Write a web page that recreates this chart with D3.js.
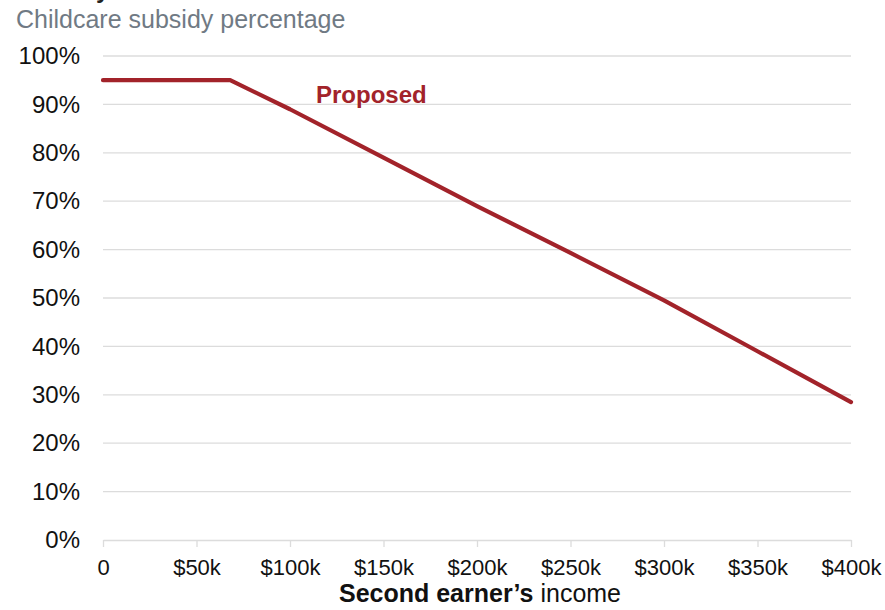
<!DOCTYPE html>
<html>
<head>
<meta charset="utf-8">
<script src="https://cdn.jsdelivr.net/npm/d3@7"></script>
<style>
  html, body { margin: 0; padding: 0; background: #fff; }
  svg { display: block; font-family: "Liberation Sans", Arial, sans-serif; }
</style>
</head>
<body>
<svg id="chart" width="885" height="610"></svg>
<script>
// ---- data ----
const titleText = "Subsidy";
const subtitleText = "Childcare subsidy percentage";
const seriesName = "Proposed";
const income = [0, 68, 100, 150, 200, 250, 300, 350, 400];          // $k
const subsidy = [95, 95, 89, 79, 69, 59.3, 49.5, 39, 28.5];          // %
const xTicks = [0, 50, 100, 150, 200, 250, 300, 350, 400];
const xTickLabels = ["0", "$50k", "$100k", "$150k", "$200k", "$250k", "$300k", "$350k", "$400k"];
const yTicks = [0, 10, 20, 30, 40, 50, 60, 70, 80, 90, 100];
const xTitleBold = "Second earner\u2019s";
const xTitleRest = " income";

// ---- layout ----
const svg = d3.select("#chart");
const x = d3.scaleLinear().domain([0, 400]).range([103, 851]);
const y = d3.scaleLinear().domain([0, 100]).range([540, 56]);
const red = "#a2232a";
const grid = "#dcdcdc";

// title (cropped at top, as in the reference)
svg.append("text").attr("x", 16).attr("y", -2)
  .attr("font-size", 24).attr("font-weight", "bold").attr("fill", "#222")
  .text(titleText);

svg.append("text").attr("x", 16).attr("y", 28)
  .attr("font-size", 25).attr("fill", "#707a84")
  .text(subtitleText);

// gridlines
svg.append("g").selectAll("line").data(yTicks.filter(d => d > 0)).join("line")
  .attr("x1", 103).attr("x2", 851)
  .attr("y1", d => y(d)).attr("y2", d => y(d))
  .attr("stroke", grid).attr("stroke-width", 1.3);

// y axis labels
const yAxis = d3.axisLeft(y).tickValues(yTicks).tickFormat(d => d + "%").tickSize(0).tickPadding(0);
const gy = svg.append("g").attr("transform", "translate(80,0)").call(yAxis);
gy.select(".domain").remove();
gy.selectAll("text").attr("font-size", 24).attr("fill", "#111")
  .attr("font-family", "Liberation Sans, Arial, sans-serif");

// x axis
const xAxis = d3.axisBottom(x).tickValues(xTicks)
  .tickFormat((d, i) => xTickLabels[i]).tickSize(7).tickSizeOuter(0).tickPadding(12);
const gx = svg.append("g").attr("transform", `translate(0,${y(0)})`).call(xAxis);
gx.select(".domain").attr("stroke", grid).attr("stroke-width", 1.3);
gx.selectAll(".tick line").attr("stroke", grid).attr("stroke-width", 1.3);
gx.selectAll("text").attr("font-size", 22).attr("fill", "#111")
  .attr("font-family", "Liberation Sans, Arial, sans-serif");

// x axis title
const xt = svg.append("text").attr("x", 480).attr("y", 602)
  .attr("text-anchor", "middle").attr("font-size", 25).attr("fill", "#111");
xt.append("tspan").attr("font-weight", "bold").text(xTitleBold);
xt.append("tspan").text(xTitleRest);

// line
const data = income.map((d, i) => ({ x: d, y: subsidy[i] }));
svg.append("path").datum(data)
  .attr("fill", "none").attr("stroke", red).attr("stroke-width", 4.2)
  .attr("stroke-linejoin", "round").attr("stroke-linecap", "round")
  .attr("d", d3.line().x(d => x(d.x)).y(d => y(d.y)));

// series label
svg.append("text").attr("x", 316).attr("y", 103)
  .attr("font-size", 24).attr("font-weight", "bold").attr("fill", red)
  .text(seriesName);
</script>
</body>
</html>
